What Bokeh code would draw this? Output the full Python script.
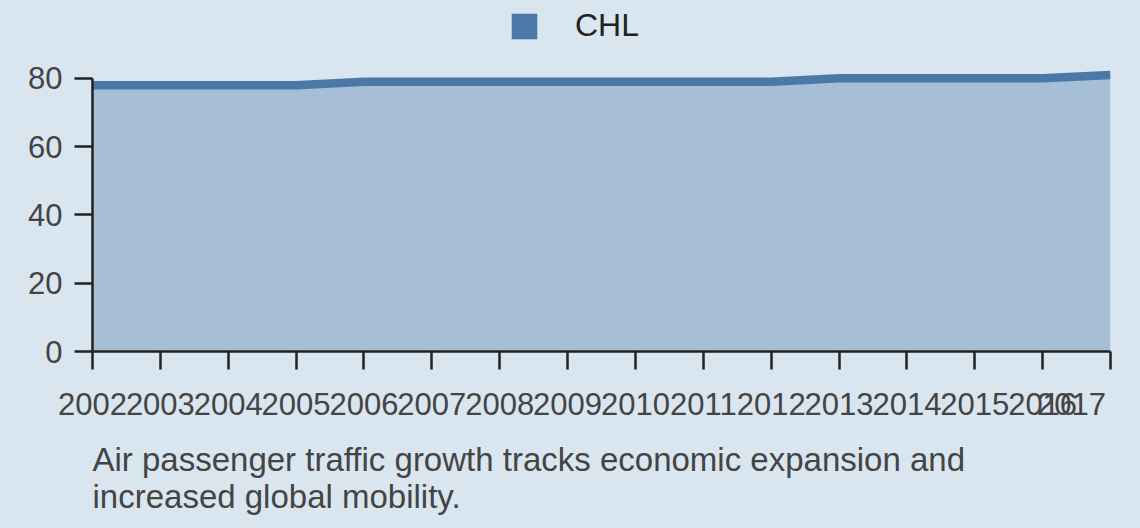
import math
from bokeh.plotting import figure
from bokeh.models import Range1d, FixedTicker, Legend, LegendItem, Title
from bokeh.embed import file_html
from bokeh.resources import INLINE

years = list(range(2002, 2018))
values = [78, 78, 78, 78, 79, 79, 79, 79, 79, 79, 79, 80, 80, 80, 80, 81]
series_name = "CHL"
y_ticks = [0, 20, 40, 60, 80]
caption = "Air passenger traffic growth tracks economic expansion and\nincreased global mobility."

BG = "#d9e6f0"
BLUE = "#4c78a8"
FONT = "Liberation Sans"
TXT = "#444444"

# frame reaches the top of the canvas; the legend sits in its empty upper part
p = figure(width=1140, height=528, output_backend="svg", toolbar_location=None,
           title=None,
           x_range=Range1d(years[0], years[-1]), y_range=Range1d(0, 102.8),
           min_border_left=92, min_border_right=30, min_border_top=0,
           min_border_bottom=175)
p.background_fill_color = BG
p.border_fill_color = BG
p.outline_line_color = None
p.grid.visible = False

p.varea(x=years, y1=[0] * len(years), y2=values, fill_color=BLUE, fill_alpha=0.36)
p.line(x=years, y=values, line_color=BLUE, line_width=8.5)

dummy = p.quad(left=[math.nan], right=[math.nan], top=[math.nan], bottom=[math.nan],
               fill_color=BLUE, line_color=None)

legend = Legend(items=[LegendItem(label=series_name, renderers=[dummy])],
                location=(416, 307), orientation="horizontal",
                glyph_width=32, glyph_height=32, label_height=32,
                label_standoff=35, padding=0, margin=0, spacing=0,
                border_line_alpha=0, background_fill_alpha=0,
                label_text_font=FONT, label_text_font_size="32px",
                label_text_color="#222222")
p.add_layout(legend, "center")

for ax in (p.xaxis[0], p.yaxis[0]):
    ax.axis_line_color = "#222222"
    ax.axis_line_width = 2.5
    ax.major_tick_line_color = "#222222"
    ax.major_tick_line_width = 2.5
    ax.major_tick_out = 18
    ax.major_tick_in = 0
    ax.minor_tick_line_color = None
    ax.major_label_text_font = FONT
    ax.major_label_text_font_size = "31px"
    ax.major_label_text_color = TXT

p.yaxis.ticker = FixedTicker(ticks=y_ticks)
p.yaxis.bounds = (y_ticks[0], y_ticks[-1])
p.yaxis.major_label_standoff = 12

p.xaxis.ticker = FixedTicker(ticks=years)
p.xaxis.major_label_standoff = 17
# last label is pushed left so that it stays inside the canvas
p.xaxis.major_label_overrides = {years[-1]: str(years[-1]) + "\u00a0" * 4}

cap = Title(text=caption, align="left", text_font=FONT, text_font_size="33px",
            text_font_style="normal", text_color=TXT, standoff=28,
            text_line_height=1.0)
p.add_layout(cap, "below")

html = file_html(p, INLINE)
html = html.replace("<head>", "<head><style>html,body{background:%s;}</style>" % BG, 1)
open("out.html", "w").write(html)
